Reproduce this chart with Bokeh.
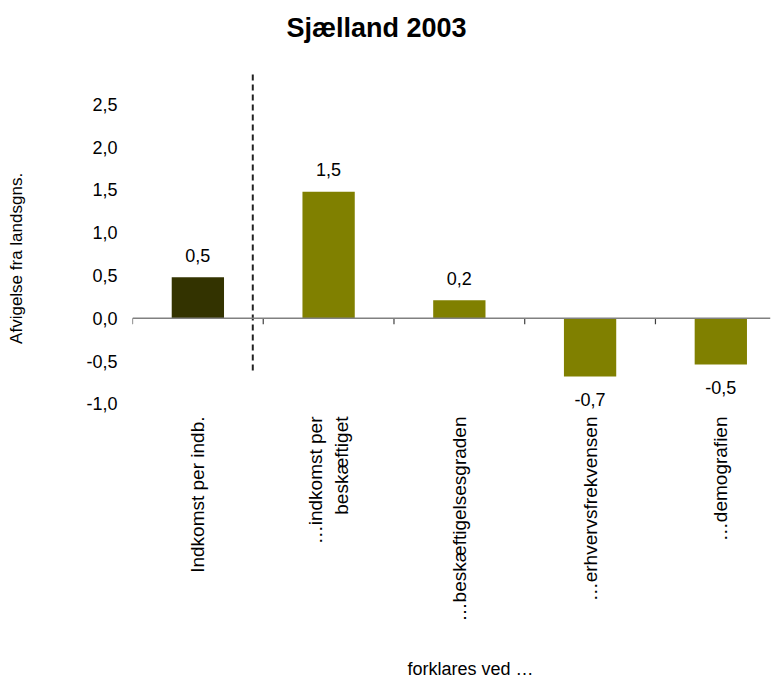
from math import pi
from bokeh.plotting import figure
from bokeh.models import ColumnDataSource, Range1d, FixedTicker, LinearAxis, Span
from bokeh.core.properties import value
from bokeh.embed import file_html
from bokeh.resources import INLINE

# ---- data ----
categories = ["Indkomst per indb.", "…indkomst per\nbeskæftiget",
              "…beskæftigelsesgraden", "…erhvervsfrekvensen", "…demografien"]
values = [0.48, 1.48, 0.21, -0.68, -0.54]
y_ticks = [-1.0, -0.5, 0.0, 0.5, 1.0, 1.5, 2.0, 2.5]
title_text = "Sjælland 2003"
y_label = "Afvigelse fra landsgns."
x_label = "forklares ved …"

# ---- layout helpers (positions, not data) ----
divider_pos = 0.92
divider_span = (-0.61, 2.85)
title_pos = 1.866      # x position (category units) of title centre
xlabel_pos = 2.585     # x position of x-axis title centre
ylabel_pos = 0.70      # y position of y-axis title centre

FONT = "Liberation Sans"

xs = [i + 0.5 for i in range(len(categories))]
colors = ["#333300"] + ["#808000"] * (len(categories) - 1)
labels = [f"{v:.1f}".replace(".", ",") for v in values]
offsets = [-22 if v >= 0 else 23 for v in values]

src = ColumnDataSource(dict(x=xs, top=values, color=colors, label=labels, yoff=offsets))

p = figure(width=774, height=681, output_backend="svg", toolbar_location=None,
           x_range=Range1d(0, 4.88), y_range=Range1d(-1.1, 3.0),
           min_border_left=132, min_border_right=4, min_border_top=61,
           min_border_bottom=265, x_axis_type=None, y_axis_type=None)
p.outline_line_color = None
p.background_fill_color = "white"
p.border_fill_color = "white"


def bare_axis(ticks, overrides, size, standoff, orientation="horizontal", bold=False):
    ax = LinearAxis(ticker=FixedTicker(ticks=ticks))
    ax.axis_line_color = None
    ax.major_tick_line_color = None
    ax.minor_tick_line_color = None
    ax.major_tick_out = 0
    ax.major_tick_in = 0
    ax.major_label_standoff = standoff
    ax.major_label_orientation = orientation
    ax.major_label_text_font = FONT
    ax.major_label_text_font_size = size
    ax.major_label_text_color = "black"
    if bold:
        ax.major_label_text_font_style = "bold"
    ax.major_label_overrides = overrides
    return ax


# y axis (tick labels)
p.add_layout(bare_axis(y_ticks, {t: f"{t:.1f}".replace(".", ",") for t in y_ticks},
                       "18px", 15), "left")
# y axis title (outer left)
p.add_layout(bare_axis([ylabel_pos], {ylabel_pos: y_label}, "17px", 57,
                       orientation="parallel"), "left")
# category axis
p.add_layout(bare_axis(xs, {x: c for x, c in zip(xs, categories)}, "19px", 4,
                       orientation=pi / 2), "below")
# x axis title
p.add_layout(bare_axis([xlabel_pos], {xlabel_pos: x_label}, "18px", 34), "below")
# chart title
p.add_layout(bare_axis([title_pos], {title_pos: title_text}, "27px", 19, bold=True), "above")

# grid
p.ygrid.ticker = FixedTicker(ticks=y_ticks)
p.ygrid.grid_line_color = "#c8c8c8"
p.ygrid.grid_line_dash = "8 7"
p.ygrid.grid_line_width = 1
p.xgrid.grid_line_color = None

# bars
p.vbar(x="x", top="top", bottom=0, width=0.4, fill_color="color",
       line_color=None, source=src)

# zero line + category boundary ticks
p.add_layout(Span(location=0, dimension="width", line_color="#808080", line_width=1.5))
bounds = list(range(len(categories)))
p.segment(x0=bounds, x1=bounds, y0=0, y1=-0.07, line_color="#404040", line_width=1.2)

# dashed divider
p.segment(x0=[divider_pos], x1=[divider_pos], y0=[divider_span[0]], y1=[divider_span[1]],
          line_color="#222222", line_width=2, line_dash="6 4")

# value labels
p.text(x="x", y="top", text="label", y_offset="yoff", source=src,
       text_align="center", text_baseline="alphabetic",
       text_font_size="18px", text_color="black", text_font=value(FONT))

open("out.html", "w").write(file_html(p, INLINE))
